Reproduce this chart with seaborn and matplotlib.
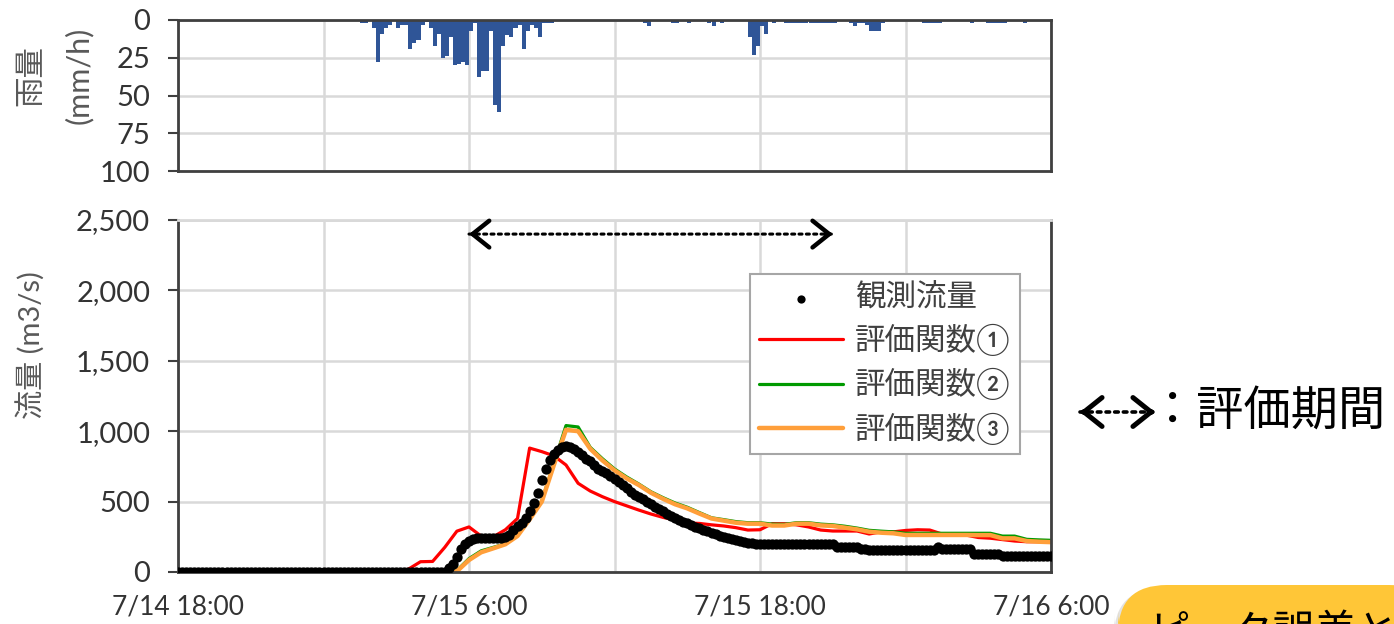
import matplotlib
matplotlib.use('Agg')
import matplotlib.pyplot as plt
import matplotlib.ticker as mticker
from matplotlib.patches import FancyBboxPatch
import seaborn as sns
import numpy as np

# rainfall every 10 min (mm/h), from 7/14 18:00
rain = [
    0, 0, 0, 0, 0, 0, 0, 0, 0, 0, 0, 0,
    0, 0, 0, 0, 0, 0, 0, 0, 0, 0, 0, 0,
    0, 0, 0, 0, 0, 0, 0, 0, 0, 0, 0, 0,
    0, 0, 0, 0, 0, 0, 0, 0, 0, 2, 2, 0,
    5, 28, 9, 5, 3, 0, 5, 3, 3, 19, 15, 13,
    3, 1, 5, 17, 9, 25, 24, 11, 30, 29, 28, 30,
    7, 2, 38, 34, 34, 7, 56, 61, 17, 10, 11, 5,
    3, 19, 7, 3, 5, 11, 2, 2, 2, 0, 0, 0,
    0, 0, 0, 0, 0, 0, 0, 0, 0, 0, 0, 0,
    0, 0, 0, 0, 0, 0, 0, 2, 4, 0, 0, 0,
    0, 0, 2, 2, 0, 0, 2, 0, 0, 0, 0, 2,
    4, 0, 2, 0, 0, 0, 0, 0, 0, 11, 23, 17,
    4, 9, 0, 2, 0, 0, 2, 2, 2, 2, 2, 2,
    2, 2, 2, 2, 2, 2, 2, 0, 0, 0, 2, 4,
    2, 2, 3, 7, 7, 7, 2, 0, 0, 0, 0, 0,
    0, 0, 0, 0, 2, 2, 2, 2, 2, 0, 0, 0,
    0, 0, 0, 0, 2, 0, 0, 0, 2, 2, 2, 2,
    2, 0, 0, 0, 0, 2, 0, 0, 0, 0, 0, 0,
]

# observed flow every 10 min (m3/s), 7/14 18:00 - 7/16 6:00
obs_flow = [
    0, 0, 0, 0, 0, 0, 0, 0, 0, 0, 0, 0,
    0, 0, 0, 0, 0, 0, 0, 0, 0, 0, 0, 0,
    0, 0, 0, 0, 0, 0, 0, 0, 0, 0, 0, 0,
    0, 0, 0, 0, 0, 0, 0, 0, 0, 0, 0, 0,
    0, 0, 0, 0, 0, 0, 0, 0, 0, 0, 0, 0,
    0, 0, 0, 0, 0, 0, 0, 25, 60, 110, 160, 200,
    220, 232, 238, 240, 240, 240, 240, 240, 240, 248, 265, 295,
    325, 350, 385, 430, 490, 560, 650, 730, 795, 835, 870, 888,
    895, 888, 875, 850, 830, 805, 785, 760, 735, 718, 700, 680,
    660, 640, 615, 595, 570, 550, 530, 515, 500, 485, 465, 445,
    430, 415, 400, 385, 370, 355, 345, 335, 320, 310, 300, 290,
    278, 268, 258, 248, 240, 232, 225, 218, 212, 208, 204, 197,
    197, 197, 197, 197, 197, 197, 197, 197, 197, 197, 197, 197,
    197, 197, 197, 197, 197, 197, 197, 175, 175, 175, 175, 175,
    175, 160, 160, 158, 155, 155, 155, 155, 155, 155, 155, 155,
    155, 155, 155, 155, 155, 155, 155, 155, 180, 165, 165, 165,
    165, 165, 165, 165, 165, 130, 130, 130, 130, 130, 130, 130,
    112, 112, 112, 112, 112, 112, 112, 112, 112, 112, 112, 112,
    112,
]

# simulated flow every 30 min (m3/s)
sim1 = [
    0, 0, 0, 0, 0, 0, 0, 0, 0, 0, 0, 0,
    0, 0, 0, 0, 0, 0, 0, 20, 73, 75, 175, 290,
    320, 255, 250, 300, 380, 880, 855, 825, 760, 630, 575, 535,
    500, 470, 440, 412, 388, 369, 348, 345, 335, 327, 315, 298,
    300, 343, 343, 335, 320, 298, 291, 291, 291, 270, 285, 285,
    295, 300, 298, 270, 265, 262, 245, 240, 230, 220, 215, 215,
    215,
]
sim2 = [
    0, 0, 0, 0, 0, 0, 0, 0, 0, 0, 0, 0,
    0, 0, 0, 0, 0, 0, 0, 0, 0, 0, 0, 10,
    95, 150, 175, 200, 262, 378, 505, 770, 1040, 1030, 885, 805,
    732, 675, 625, 570, 528, 490, 460, 422, 385, 372, 358, 350,
    350, 340, 338, 350, 350, 340, 335, 325, 312, 296, 290, 285,
    275, 275, 275, 275, 275, 275, 275, 275, 255, 255, 232, 228,
    225,
]
sim3 = [
    0, 0, 0, 0, 0, 0, 0, 0, 0, 0, 0, 0,
    0, 0, 0, 0, 0, 0, 0, 0, 0, 0, 0, 5,
    85, 140, 168, 197, 256, 374, 499, 760, 1010, 1000, 875, 793,
    722, 665, 618, 563, 520, 481, 452, 415, 380, 365, 350, 343,
    343, 330, 330, 343, 343, 331, 327, 315, 303, 286, 279, 275,
    263, 263, 263, 263, 263, 263, 262, 262, 239, 239, 220, 215,
    212,
]

series_names = ['観測流量', '評価関数①', '評価関数②', '評価関数③']
series_colors = ['black', '#FF0000', '#009A00', '#FF9F3A']
xtick_hours = [0, 12, 24, 36]
xtick_labels = ['7/14 18:00', '7/15 6:00', '7/15 18:00', '7/16 6:00']
eval_start, eval_end = 12, 27   # hours after 7/14 18:00

t_rain = np.arange(len(rain)) / 6 + 1 / 12
t_obs = np.arange(len(obs_flow)) / 6
t_sim = np.arange(len(sim1)) / 2

sns.set_theme(style='white')
plt.rcParams['font.family'] = ['Lato', 'Noto Sans CJK JP', 'DejaVu Sans']

W, H = 1394, 624
fig = plt.figure(figsize=(W / 100, H / 100), dpi=100)
L, R = 178 / W, 1051 / W
ax_r = fig.add_axes([L, 1 - 171 / H, R - L, 151 / H])
ax_q = fig.add_axes([L, 1 - 572 / H, R - L, 352 / H])

dark = '#404040'
grid_c = '#d9d9d9'
tick_c = '#333333'
label_c = '#595959'

# ---- rainfall ----
sns.barplot(x=t_rain, y=rain, native_scale=True, width=1.0, color='#2F5597',
            saturation=1, errorbar=None, linewidth=0, ax=ax_r)
ax_r.set_xlim(0, 36)
ax_r.set_ylim(100, 0)
ax_r.set_yticks([0, 25, 50, 75, 100])
ax_r.xaxis.set_major_locator(mticker.MultipleLocator(6))
ax_r.tick_params(axis='x', length=0, labelbottom=False)
ax_r.set_ylabel('')
fig.text(30 / W, 1 - 75 / H, '雨量', rotation=90, fontsize=22, color=label_c,
         ha='center', va='center')
fig.text(79 / W, 1 - 75 / H, '(mm/h)', rotation=90, fontsize=22, color=label_c,
         ha='center', va='center')

# ---- flow ----
sns.lineplot(x=t_sim, y=sim1, color=series_colors[1], linewidth=2.3, label=series_names[1], ax=ax_q)
sns.lineplot(x=t_sim, y=sim2, color=series_colors[2], linewidth=2.3, label=series_names[2], ax=ax_q)
sns.lineplot(x=t_sim, y=sim3, color=series_colors[3], linewidth=3.2, label=series_names[3], ax=ax_q)
sns.scatterplot(x=t_obs, y=obs_flow, color='black', s=55, linewidth=0, zorder=5,
                label=series_names[0], ax=ax_q)
ax_q.set_xlim(0, 36)
ax_q.set_ylim(0, 2500)
ax_q.yaxis.set_major_locator(mticker.MultipleLocator(500))
ax_q.yaxis.set_major_formatter(mticker.StrMethodFormatter('{x:,.0f}'))
ax_q.set_xticks(xtick_hours)
ax_q.set_xticklabels(xtick_labels)
ax_q.xaxis.set_minor_locator(mticker.MultipleLocator(6))
ax_q.set_xlabel('')
ax_q.set_ylabel('流量 (m3/s)', fontsize=21, color=label_c)
ax_q.yaxis.set_label_coords(-0.152, 0.645)
ax_q.tick_params(axis='x', which='major', length=7, width=1.5, color=dark, pad=9,
                 labelsize=19, labelcolor=tick_c)
ax_q.tick_params(axis='x', which='minor', length=0)

for ax in (ax_r, ax_q):
    ax.set_axisbelow(True)
    ax.grid(True, which='both', color=grid_c, lw=1.8)
    ax.tick_params(axis='y', length=7, width=1.5, color=dark, pad=13,
                   labelsize=21, labelcolor=tick_c, left=True)
    for s in ax.spines.values():
        s.set_color(dark)
        s.set_linewidth(2)
ax_q.spines['top'].set_color(grid_c)


# evaluation period arrow: dotted shaft, solid open heads
def period_arrow(ax, x0, x1, y, coords, lw_head=3.2, lw_dot=2.2, ms=24, frac=0.02):
    ax.annotate('', xy=(x1, y), xytext=(x0, y), xycoords=coords, textcoords=coords,
                annotation_clip=False,
                arrowprops=dict(arrowstyle='-', ls=(0, (1, 1.4)), lw=lw_dot, color='black',
                                shrinkA=0, shrinkB=0))
    d = (x1 - x0) * frac
    for a, b in ((x0 + d, x0), (x1 - d, x1)):
        ax.annotate('', xy=(b, y), xytext=(a, y), xycoords=coords, textcoords=coords,
                    annotation_clip=False,
                    arrowprops=dict(arrowstyle='->,head_length=0.5,head_width=0.4',
                                    lw=lw_head, color='black', mutation_scale=ms,
                                    shrinkA=0, shrinkB=0))


period_arrow(ax_q, eval_start, eval_end, 2400, 'data')
period_arrow(ax_q, 1080 / W, 1155 / W, 1 - 412 / H, 'figure fraction',
             lw_head=3.6, lw_dot=2.6, ms=26, frac=0.08)
fig.text(1149 / W, 1 - 412 / H, '：評価期間', fontsize=34, color='black', va='center', ha='left')

# legend
h, l = ax_q.get_legend_handles_labels()
order = [l.index(n) for n in series_names]
leg = ax_q.legend([h[i] for i in order], [l[i] for i in order],
                  loc='upper right', bbox_to_anchor=(1020 / W, 1 - 274 / H),
                  bbox_transform=fig.transFigure, fontsize=22, frameon=True,
                  fancybox=False, framealpha=1, edgecolor='#a6a6a6',
                  handlelength=2.75, labelspacing=0.4, borderpad=0.3,
                  handletextpad=0.4, markerscale=0.8, borderaxespad=0)
leg.get_frame().set_linewidth(1.5)
for t in leg.get_texts():
    t.set_color('#404040')

# yellow callout box, cut off by the figure edge as in the source slide
box = FancyBboxPatch((1118 / W, 1 - 660 / H), 320 / W, 75 / H,
                     boxstyle='round,pad=0,rounding_size=0.035',
                     transform=fig.transFigure, facecolor='#FFC637', edgecolor='none',
                     mutation_aspect=W / H)
shadow = FancyBboxPatch((1114 / W, 1 - 663 / H), 320 / W, 75 / H,
                        boxstyle='round,pad=0,rounding_size=0.035',
                        transform=fig.transFigure, facecolor='#d0d0d0', edgecolor='none',
                        alpha=0.6, mutation_aspect=W / H)
fig.patches.extend([shadow, box])
fig.text(1148 / W, 1 - 645 / H, 'ピーク誤差と', fontsize=30, color='black', va='baseline')

fig.savefig('out.png', dpi=100)
